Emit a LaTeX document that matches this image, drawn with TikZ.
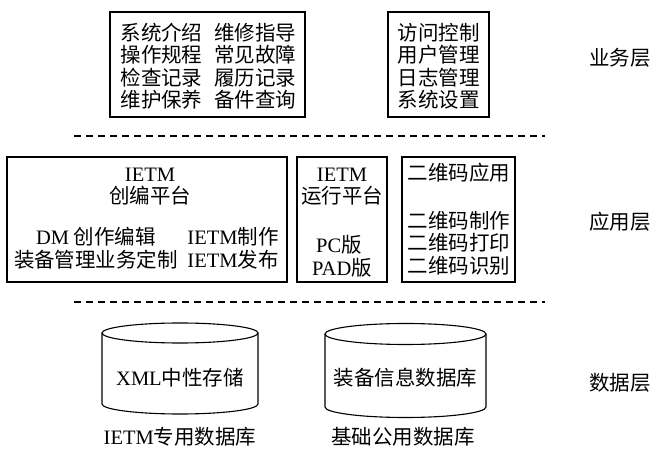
\documentclass[tikz,border=0pt]{standalone}
\usepackage{fontspec}
\setmainfont{Noto Sans CJK SC}
\newfontfamily\lat{Liberation Serif}
\begin{document}
\begin{tikzpicture}[x=1pt,y=1pt,
  box/.style={draw, line width=1.3pt, inner sep=0pt},
  txt/.style={inner sep=0pt, align=center, font=\fontsize{20.5}{22.5}\selectfont},
  sep/.style={dashed, line width=1.3pt, dash pattern=on 7pt off 5pt},
  cyl/.style={line width=1.1pt}]
\useasboundingbox (0,0) rectangle (657,450);
% business layer
\node[box, minimum width=195, minimum height=105] (bizA) at (207.5,385.5) {};
\node[txt] (bizAt) at (208.5,384) {系统介绍\hspace{12pt}维修指导\\操作规程\hspace{12pt}常见故障\\检查记录\hspace{12pt}履历记录\\维护保养\hspace{12pt}备件查询};
\node[box, minimum width=101, minimum height=105] (bizB) at (438.5,385.5) {};
\node[txt] (bizBt) at (438.5,384) {访问控制\\用户管理\\日志管理\\系统设置};
\node[txt] (l1) at (620,392) {业务层};
% separator 1
\coordinate (d1a) at (74,314);
\coordinate (d1b) at (545,314);
\draw[sep] (d1a) -- (d1b);
% application layer
\node[box, minimum width=280, minimum height=125] (appA) at (147,230.5) {};
\node[txt] (appA1) at (150,263.5) {{\lat IETM}\\创编平台};
\node[txt] (appA2) at (96,213) {{\lat DM} 创作编辑};
\node[txt] (appA3) at (96,190) {装备管理业务定制};
\node[txt] (appA4) at (233,213) {{\lat IETM}制作};
\node[txt] (appA5) at (233,190) {{\lat IETM}发布};
\node[box, minimum width=90, minimum height=125] (appB) at (342,230.5) {};
\node[txt] (appB1) at (342,263.5) {{\lat IETM}\\运行平台};
\node[txt] (appB2) at (339,205) {{\lat PC}版};
\node[txt] (appB3) at (342,182) {{\lat PAD}版};
\node[box, minimum width=113, minimum height=125] (appC) at (458.5,230.5) {};
\node[txt] (appC1) at (459,277) {二维码应用};
\node[txt] (appC2) at (459,207) {二维码制作\\二维码打印\\二维码识别};
\node[txt] (l2) at (620,228) {应用层};
% separator 2
\coordinate (d2a) at (74,148);
\coordinate (d2b) at (545,148);
\draw[sep] (d2a) -- (d2b);
% data layer
\draw[cyl] (180,117) ellipse [x radius=78, y radius=10];
\draw[cyl] (102,117) -- (102,46) arc[start angle=180, end angle=360, x radius=78, y radius=10] -- (258,117);
\node[txt] (db1) at (180,72) {{\lat XML}中性存储};
\node[txt] (db1l) at (180,13) {{\lat IETM}专用数据库};
\draw[cyl] (405.5,116) ellipse [x radius=80.5, y radius=10.5];
\draw[cyl] (325,116) -- (325,43) arc[start angle=180, end angle=360, x radius=80.5, y radius=10.5] -- (486,116);
\node[txt] (db2) at (405.5,72) {装备信息数据库};
\node[txt] (db2l) at (403,13) {基础公用数据库};
\node[txt] (l3) at (620,67) {数据层};
\end{tikzpicture}
\end{document}
